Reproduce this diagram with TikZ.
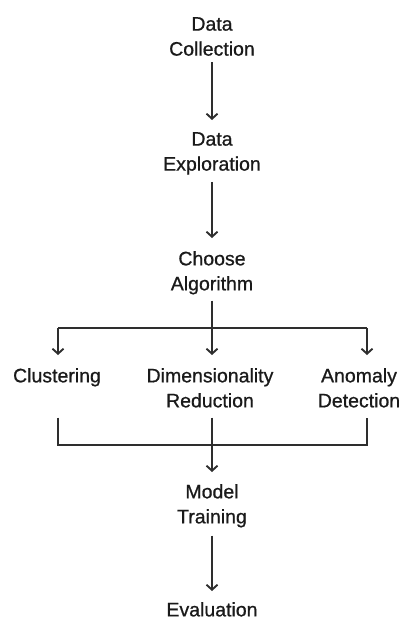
\documentclass[tikz,border=0pt]{standalone}
\usepackage{fontspec}
\newfontfamily\lblfont{Liberation Sans}[UprightFeatures={FakeBold=0.8}]
\usetikzlibrary{arrows.meta}
\definecolor{ink}{HTML}{1A1A1A}
\definecolor{wire}{HTML}{2E2E2E}
\begin{document}
\begin{tikzpicture}[x=1pt,y=-1pt,
  lbl/.style={anchor=north, inner sep=0pt, align=center, text=ink,
              font=\lblfont\fontsize{19.5}{25}\selectfont},
  link/.style={draw=wire, line width=1.9pt},
  arr/.style={link, -{Straight Barb[length=5pt,width=11pt,line width=1.9pt]}}
]
\useasboundingbox (0,0) rectangle (409,621);

% pipeline stages
\node[lbl] (dc) at (212,17)  {Data\\Collection};
\node[lbl] (de) at (212,132) {Data\\Exploration};
\node[lbl] (ca) at (212,251) {Choose\\Algorithm};
\node[lbl] (cl) at (57,368)  {Clustering};
\node[lbl] (dr) at (210,368) {Dimensionality\\Reduction};
\node[lbl] (ad) at (359,368) {Anomaly\\Detection};
\node[lbl] (mt) at (212,484) {Model\\Training};
\node[lbl] (ev) at (212,602) {Evaluation};

% branch and join points
\coordinate (split) at (212,328);
\coordinate (bl) at (58,328);
\coordinate (br) at (367,328);
\coordinate (jl) at (58,445);
\coordinate (jr) at (367,445);

% main line
\draw[arr, shorten <=6pt, shorten >=12pt] (dc.south) -- (de.north);
\draw[arr, shorten <=7pt, shorten >=13pt] (de.south) -- (ca.north);
\draw[link, shorten <=6pt] (ca.south) -- (split);

% fan out to the three algorithm families
\draw[link] (bl) -- (br);
\draw[arr, shorten >=13pt] (bl) -- (bl |- cl.north);
\draw[arr, shorten >=13pt] (split) -- (split |- dr.north);
\draw[arr, shorten >=13pt] (br) -- (br |- ad.north);

% merge back into training
\draw[link, shorten <=10pt, shorten >=10pt]
  (jl |- dr.south) -- (jl) -- (jr) -- (jr |- dr.south);
\draw[arr, shorten <=10pt, shorten >=12pt] (mt |- dr.south) -- (mt.north);

\draw[arr, shorten <=8pt, shorten >=11pt] (mt.south) -- (ev.north);
\end{tikzpicture}
\end{document}
